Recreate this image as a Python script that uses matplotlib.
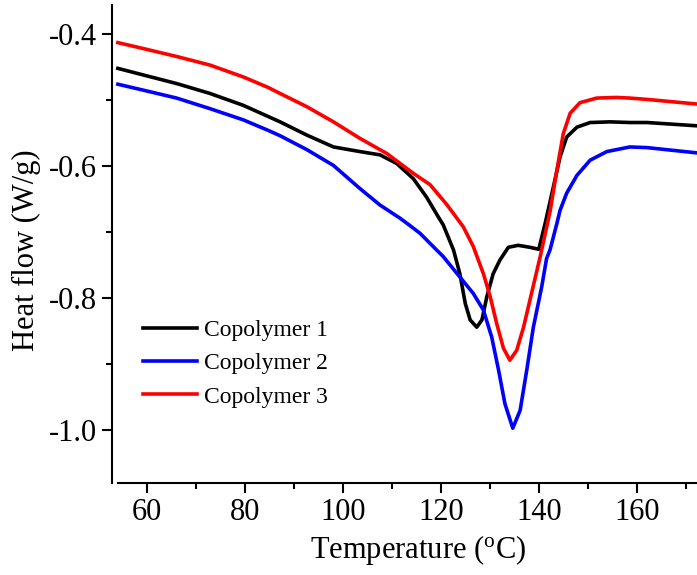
import matplotlib.pyplot as plt
from matplotlib.ticker import MultipleLocator

# data
t1 = [54.1, 59.3, 66.1, 72.9, 79.7, 84.8, 87.2, 92.65, 98.1, 103.5, 107.6, 111.0, 114.4,
      117.1, 119.5, 120.5, 122.6, 123.9, 125.0, 126.0, 127.35, 128.4, 129.4, 130.7,
      132.1, 133.8, 135.8, 138.2, 140.0, 141.3, 143.0, 144.35, 145.7, 147.8, 150.5,
      154.55, 158.6, 162.1, 172.3]
hf1 = [-0.452, -0.462, -0.475, -0.490, -0.508, -0.525, -0.533, -0.553, -0.571, -0.578,
       -0.583, -0.596, -0.619, -0.647, -0.677, -0.689, -0.727, -0.763, -0.808, -0.833,
       -0.844, -0.833, -0.798, -0.763, -0.742, -0.723, -0.720, -0.723, -0.726, -0.687,
       -0.631, -0.586, -0.556, -0.541, -0.534, -0.533, -0.534, -0.534, -0.539]

t2 = [54.1, 59.3, 66.1, 72.9, 79.7, 84.8, 87.2, 92.65, 98.1, 103.5, 107.6, 111.7, 113.7,
      115.8, 117.8, 120.5, 123.9, 126.65, 128.7, 130.4, 131.8, 133.1, 134.7, 136.2,
      137.55, 138.9, 140.6, 141.6, 142.3, 143.7, 144.35, 145.7, 147.8, 150.5, 153.9,
      158.6, 162.1, 172.3]
hf2 = [-0.476, -0.485, -0.497, -0.513, -0.530, -0.546, -0.554, -0.575, -0.599, -0.634,
       -0.659, -0.679, -0.690, -0.702, -0.717, -0.737, -0.768, -0.793, -0.818, -0.859,
       -0.909, -0.960, -0.997, -0.970, -0.909, -0.844, -0.783, -0.740, -0.727, -0.687,
       -0.667, -0.641, -0.614, -0.591, -0.578, -0.571, -0.572, -0.580]

t3 = [54.1, 59.3, 66.1, 72.9, 79.7, 84.8, 87.2, 92.65, 98.1, 103.5, 109.0, 114.4, 117.8,
      119.5, 121.2, 124.6, 126.65, 128.7, 130.1, 131.4, 132.8, 134.1, 135.5, 136.9,
      138.2, 140.3, 142.3, 143.7, 145.0, 146.4, 148.4, 151.8, 155.9, 158.6, 162.1, 172.3]
hf3 = [-0.413, -0.422, -0.434, -0.447, -0.465, -0.481, -0.490, -0.510, -0.533, -0.558,
       -0.581, -0.611, -0.628, -0.643, -0.658, -0.692, -0.722, -0.763, -0.798, -0.838,
       -0.876, -0.894, -0.879, -0.844, -0.803, -0.737, -0.669, -0.606, -0.551, -0.520,
       -0.504, -0.497, -0.496, -0.497, -0.499, -0.506]

labels = ['Copolymer 1', 'Copolymer 2', 'Copolymer 3']
colors = ['black', 'blue', 'red']

plt.rcParams['font.family'] = ['Liberation Serif', 'DejaVu Serif']

fig = plt.figure(figsize=(6.97, 5.75), dpi=100)
ax = fig.add_axes([112 / 697, 92 / 575, 585 / 697, 478 / 575])

for t, hf, lab, c in zip([t1, t2, t3], [hf1, hf2, hf3], labels, colors):
    ax.plot(t, hf, color=c, lw=2.6, label=lab, solid_joinstyle='round')

ax.set_xlim(52.9, 172.3)
ax.set_ylim(-1.08, -0.356)
ax.spines['top'].set_visible(False)
ax.spines['right'].set_visible(False)
ax.spines['bottom'].set_bounds(54.1, 172.3)
for s in ['left', 'bottom']:
    ax.spines[s].set_linewidth(1.5)

ax.xaxis.set_major_locator(MultipleLocator(20))
ax.xaxis.set_minor_locator(MultipleLocator(10))
ax.yaxis.set_major_locator(MultipleLocator(0.2))
ax.yaxis.set_minor_locator(MultipleLocator(0.1))
ax.tick_params(which='major', direction='out', length=7, width=1.5, labelsize=22, pad=4)
ax.tick_params(which='minor', direction='out', length=4, width=1.5)
ax.yaxis.set_major_formatter(plt.FuncFormatter(lambda v, p: '%.1f' % v))

ax.set_xlabel('Temperature ($\\mathregular{^o}$C)', fontsize=22)
ax.set_ylabel('Heat flow (W/g)', fontsize=22)
ax.xaxis.set_label_coords(0.523, -0.105)
ax.yaxis.set_label_coords(-0.122, 0.487)

ax.legend(loc='upper left', bbox_to_anchor=(0.053, 0.342), frameon=False, fontsize=17,
          handlelength=2.3, handletextpad=0.3, labelspacing=0.5, borderpad=0, borderaxespad=0)

fig.savefig('out.png', dpi=100)
